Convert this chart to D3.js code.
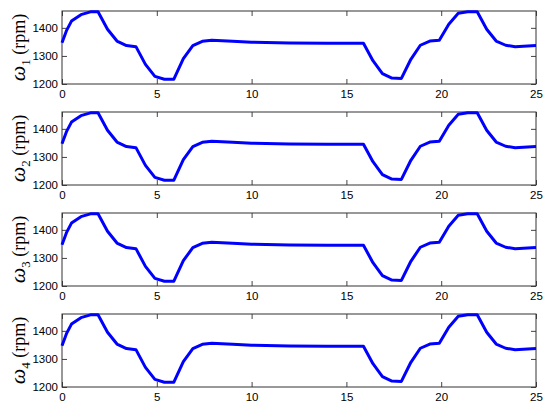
<html>
<head>
  <title>omega plots</title>
</head>
<style>
  body {
    padding: 0;
    margin: 0;
    background: #fff;
  }
</style>
<body>
  <div id="chart"></div>
</body>
<script src="https://cdn.jsdelivr.net/npm/d3@7"></script>
<script>
  // time (s) and rotor speed (rpm)
  const times = [0, 0.25, 0.5, 1, 1.5, 1.9, 2.4, 2.9, 3.4, 3.9, 4.4, 4.9, 5.4, 5.9, 6.4, 6.9, 7.4, 7.9, 9, 10, 12, 14,
    15.9, 16.4, 16.9, 17.4, 17.9, 18.4, 18.9, 19.4, 19.9, 20.4, 20.9, 21.4, 21.9, 22.4, 22.9, 23.4, 23.9, 25]
  const omega1 = [1347, 1392, 1424, 1447, 1457, 1457, 1395, 1353, 1337, 1333, 1270, 1227, 1217, 1217, 1290, 1337, 1352, 1356, 1352, 1349, 1346, 1345,
    1345, 1283, 1237, 1221, 1220, 1288, 1338, 1353, 1356, 1413, 1452, 1457, 1457, 1395, 1353, 1338, 1333, 1337]
  const omega2 = omega1.slice()
  const omega3 = omega1.slice()
  const omega4 = omega1.slice()
  const series = [omega1, omega2, omega3, omega4]
  const xTicks = [0, 5, 10, 15, 20, 25]
  const yTicks = [1200, 1300, 1400]

  const width = 550
  const height = 418
  const svg = d3.select("#chart").append("svg")
    .attr("width", width)
    .attr("height", height)

  const left = 62, right = 536, plotH = 73
  const tops = [11, 112, 213, 314]

  const x = d3.scaleLinear().domain([0, 25]).range([left, right])

  series.forEach((vals, k) => {
    const top = tops[k]
    const y = d3.scaleLinear().domain([1200, 1460]).range([top + plotH, top])
    const g = svg.append("g")

    // bottom axis with labels
    g.append("g")
      .attr("transform", `translate(0,${top + plotH})`)
      .call(d3.axisBottom(x).tickValues(xTicks).tickSizeInner(-5).tickSizeOuter(0).tickPadding(6).tickFormat(d3.format("d")))
    // top axis, ticks only
    g.append("g")
      .attr("transform", `translate(0,${top})`)
      .call(d3.axisTop(x).tickValues(xTicks).tickSizeInner(-5).tickSizeOuter(0).tickFormat(""))
    // left axis
    g.append("g")
      .attr("transform", `translate(${left},0)`)
      .call(d3.axisLeft(y).tickValues(yTicks).tickSizeInner(-5).tickSizeOuter(0).tickPadding(4).tickFormat(d3.format("d")))
    // right axis
    g.append("g")
      .attr("transform", `translate(${right},0)`)
      .call(d3.axisRight(y).tickValues(yTicks).tickSizeInner(-5).tickSizeOuter(0).tickFormat(""))

    g.selectAll(".domain").remove()
    g.selectAll(".tick line").attr("stroke", "#444")
    g.selectAll(".tick text")
      .attr("fill", "#000")
      .style("font-family", "'Liberation Sans', Arial, sans-serif")
      .style("font-size", "11.5px")

    g.append("rect")
      .attr("x", left).attr("y", top)
      .attr("width", right - left).attr("height", plotH)
      .attr("fill", "none")
      .attr("stroke", "#333")
      .attr("stroke-width", 1)

    const line = d3.line()
      .x((d, i) => x(times[i]))
      .y(d => y(d))

    g.append("path")
      .datum(vals)
      .attr("d", line)
      .attr("fill", "none")
      .attr("stroke", "#0000ff")
      .attr("stroke-width", 3)
      .attr("stroke-linejoin", "round")

    // y label
    const lab = g.append("text")
      .attr("transform", `translate(25,${top + plotH / 2}) rotate(-90)`)
      .attr("text-anchor", "middle")
      .style("font-family", "'Liberation Serif', 'Times New Roman', serif")
      .style("font-size", "18px")
      .attr("fill", "#000")
    lab.append("tspan").text("\u03c9").style("font-style", "italic").style("font-size", "22px")
    lab.append("tspan").text(k + 1).attr("dy", 5).style("font-size", "13px")
    lab.append("tspan").text(" (rpm)").attr("dy", -5)
  })
</script>
</html>
